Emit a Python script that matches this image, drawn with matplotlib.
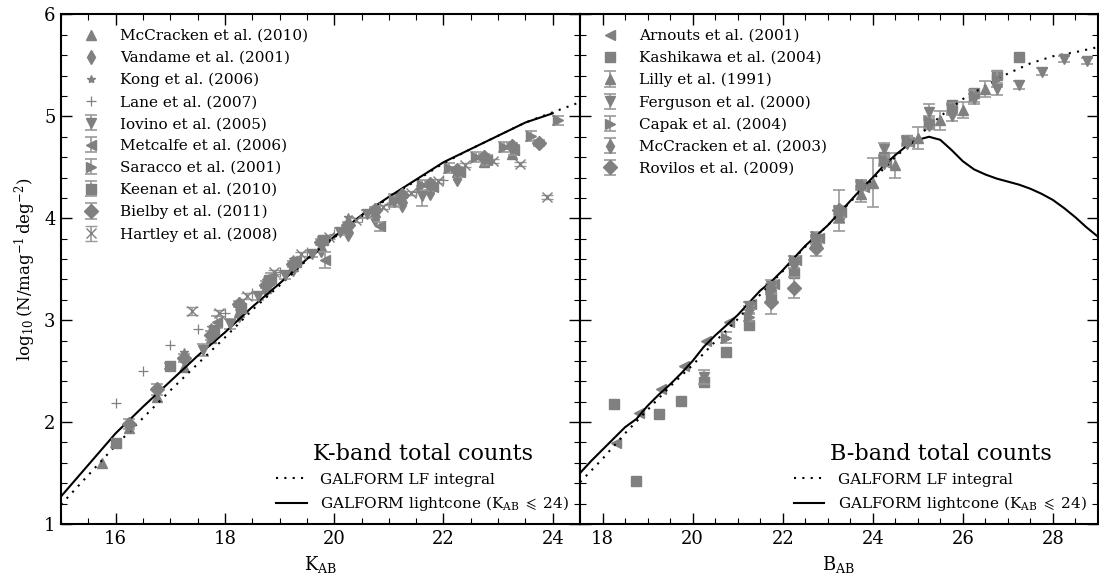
import matplotlib
matplotlib.use("Agg")
import matplotlib.pyplot as plt
from matplotlib.ticker import MultipleLocator

plt.rcParams['font.family'] = ['DejaVu Serif']
plt.rcParams['mathtext.fontset'] = 'dejavuserif'

# ---------------- K-band model curves ----------------
k_lc_mag = [15.0, 15.5, 16.0, 16.5, 17.0, 17.5, 18.0, 18.5, 19.0, 19.5, 20.0, 20.5,
            21.0, 21.5, 22.0, 22.5, 23.0, 23.5, 24.0]
k_lc_n = [1.27, 1.58, 1.89, 2.15, 2.40, 2.65, 2.88, 3.13, 3.36, 3.60, 3.82, 4.03,
          4.21, 4.38, 4.55, 4.68, 4.81, 4.94, 5.03]
k_lf_mag = [15.0, 15.5, 16.0, 16.5, 17.0, 17.5, 18.0, 18.5, 19.0, 19.5, 20.0, 20.5,
            21.0, 21.5, 22.0, 22.5, 23.0, 23.5, 24.0, 24.5]
k_lf_n = [1.19, 1.48, 1.77, 2.04, 2.31, 2.57, 2.83, 3.10, 3.34, 3.59, 3.81, 4.02,
          4.20, 4.37, 4.54, 4.68, 4.81, 4.94, 5.04, 5.14]

# ---------------- K-band data ----------------
mcc10_k = [15.75, 16.25, 16.75, 17.25, 17.75, 18.25, 18.75, 19.25, 19.75, 20.25, 20.75,
           21.25, 21.75, 22.25, 22.75, 23.25]
mcc10_n = [1.60, 1.94, 2.25, 2.54, 2.83, 3.08, 3.32, 3.53, 3.73, 3.90, 4.06,
           4.20, 4.32, 4.45, 4.55, 4.63]

vandame_k = [18.25, 18.75, 19.25, 19.75, 20.25, 20.75, 21.25, 21.75, 22.25]
vandame_n = [3.05, 3.30, 3.50, 3.69, 3.85, 3.99, 4.13, 4.25, 4.39]

kong_k = [17.25, 17.75, 18.25, 18.75, 19.25, 19.75, 20.25, 20.75]
kong_n = [2.69, 2.93, 3.16, 3.39, 3.60, 3.78, 4.01, 4.11]

lane_k = [16.0, 16.5, 17.0, 17.5, 18.0, 18.5, 19.0, 19.5, 20.0, 20.5, 21.0, 21.5, 22.0]
lane_n = [2.19, 2.50, 2.76, 2.91, 3.07, 3.27, 3.47, 3.67, 3.85, 4.01, 4.14, 4.26, 4.38]

iovino_k = [17.6, 18.1, 18.6, 19.1, 19.6, 20.1, 20.6, 21.1, 21.6]
iovino_n = [2.71, 2.96, 3.24, 3.44, 3.65, 3.87, 4.04, 4.16, 4.22]
iovino_e = [0.06, 0.05, 0.04, 0.04, 0.03, 0.03, 0.04, 0.05, 0.10]

metcalfe_k = [17.85, 18.85, 19.84, 20.83, 21.8, 22.3, 22.8, 23.3]
metcalfe_n = [2.98, 3.41, 3.59, 3.92, 4.31, 4.45, 4.57, 4.67]
metcalfe_e = [0.06, 0.05, 0.08, 0.04, 0.04, 0.04, 0.05, 0.05]

saracco_k = [21.1, 21.6, 22.1, 22.6, 23.1, 23.6, 24.1]
saracco_n = [4.18, 4.33, 4.49, 4.60, 4.70, 4.81, 4.96]
saracco_e = [0.06, 0.05, 0.05, 0.05, 0.05, 0.05, 0.04]

keenan_k = [16.0, 17.0, 17.8, 18.3, 18.8, 19.3, 19.8]
keenan_n = [1.79, 2.55, 2.90, 3.12, 3.39, 3.57, 3.79]
keenan_e = [0.03, 0.03, 0.03, 0.02, 0.02, 0.02, 0.03]

bielby_k = [16.25, 16.75, 17.25, 17.75, 18.25, 18.75, 19.25, 19.75, 20.25, 20.75, 21.25,
            21.75, 22.25, 22.75, 23.25, 23.75]
bielby_n = [1.98, 2.32, 2.63, 2.85, 3.16, 3.35, 3.55, 3.77, 3.93, 4.08, 4.23,
            4.34, 4.47, 4.60, 4.71, 4.74]
bielby_e = [0.05, 0.05, 0.04, 0.04, 0.03, 0.03, 0.03, 0.03, 0.03, 0.03, 0.03,
            0.03, 0.03, 0.03, 0.03, 0.03]

hartley_k = [17.4, 17.9, 18.4, 18.9, 19.4, 19.9, 20.4, 20.9, 21.4, 21.9, 22.4, 22.9, 23.4, 23.9]
hartley_n = [3.09, 3.07, 3.24, 3.47, 3.65, 3.82, 3.98, 4.11, 4.25, 4.37, 4.52, 4.56, 4.53, 4.21]
hartley_e = [0.04, 0.03, 0.03, 0.02, 0.02, 0.02, 0.02, 0.02, 0.02, 0.02, 0.02, 0.02, 0.02, 0.02]

# ---------------- B-band model curves ----------------
b_lc_mag = [17.5, 17.75, 18.0, 18.25, 18.5, 18.75, 19.0, 19.25, 19.5, 19.75, 20.0, 20.25,
            20.5, 20.75, 21.0, 21.25, 21.5, 21.75, 22.0, 22.25, 22.5, 22.75, 23.0, 23.25,
            23.5, 23.75, 24.0, 24.25, 24.5, 24.75, 25.0, 25.25, 25.5, 25.75, 26.0, 26.25,
            26.5, 26.75, 27.0, 27.25, 27.5, 27.75, 28.0, 28.25, 28.5, 28.75, 29.0]
b_lc_n = [1.50, 1.62, 1.73, 1.84, 1.95, 2.03, 2.16, 2.27, 2.37, 2.48, 2.60, 2.74,
          2.85, 2.95, 3.05, 3.17, 3.29, 3.38, 3.49, 3.61, 3.73, 3.83, 3.93, 4.05,
          4.17, 4.29, 4.40, 4.52, 4.62, 4.71, 4.77, 4.80, 4.77, 4.67, 4.56, 4.48,
          4.43, 4.39, 4.36, 4.33, 4.29, 4.24, 4.18, 4.10, 4.01, 3.91, 3.82]
b_lf_mag = [17.5, 18.0, 18.5, 19.0, 19.5, 20.0, 20.5, 21.0, 21.5, 22.0, 22.5, 23.0,
            23.5, 24.0, 24.5, 25.0, 25.5, 26.0, 26.5, 27.0, 27.5, 28.0, 28.5, 29.0]
b_lf_n = [1.41, 1.64, 1.89, 2.12, 2.35, 2.56, 2.79, 3.01, 3.25, 3.48, 3.72, 3.93,
          4.16, 4.38, 4.60, 4.80, 5.00, 5.17, 5.30, 5.42, 5.52, 5.59, 5.63, 5.68]

# ---------------- B-band data ----------------
arnouts_b = [18.3, 18.8, 19.3, 19.8, 20.3, 20.8, 21.3, 21.8, 22.3, 22.8, 23.3, 23.8, 24.3, 24.8]
arnouts_n = [1.79, 2.09, 2.32, 2.55, 2.80, 2.98, 3.16, 3.36, 3.59, 3.81, 4.06, 4.31, 4.54, 4.75]

kashi_b = [18.25, 18.75, 19.25, 19.75, 20.25, 20.75, 21.25, 21.75, 22.25, 22.75, 23.25,
           23.75, 24.25, 24.75, 25.25, 25.75, 26.25, 26.75, 27.25]
kashi_n = [2.18, 1.42, 2.08, 2.21, 2.39, 2.69, 2.95, 3.24, 3.46, 3.77, 4.04,
           4.33, 4.60, 4.77, 4.93, 5.11, 5.23, 5.41, 5.58]

lilly_b = [22.75, 23.25, 23.75, 24.0, 24.5, 25.0, 25.5, 26.0, 26.5]
lilly_n = [3.77, 4.01, 4.24, 4.35, 4.52, 4.79, 4.96, 5.06, 5.27]
lilly_e = [0.05, 0.06, 0.08, 0.24, 0.12, 0.11, 0.09, 0.08, 0.08]

ferg_b = [20.25, 21.25, 21.75, 22.75, 23.25, 24.25, 25.25, 25.75, 26.25, 26.75, 27.25,
          27.75, 28.25, 28.75]
ferg_n = [2.44, 3.14, 3.34, 3.80, 4.06, 4.68, 5.04, 5.00, 5.17, 5.27, 5.31,
          5.44, 5.56, 5.54]
ferg_e = [0.07, 0.04, 0.05, 0.04, 0.05, 0.06, 0.08, 0.05, 0.05, 0.06, 0.04,
          0.03, 0.03, 0.03]

capak_b = [20.75, 21.25, 21.75, 22.25, 22.75, 23.25, 23.75, 24.25, 24.75, 25.25, 25.75,
           26.25, 26.75]
capak_n = [2.83, 3.03, 3.30, 3.59, 3.83, 4.08, 4.34, 4.57, 4.77, 4.95, 5.08, 5.20, 5.37]
capak_e = [0.05, 0.04, 0.04, 0.04, 0.04, 0.04, 0.04, 0.04, 0.04, 0.05, 0.05, 0.06, 0.08]

mcc03_b = [21.25, 21.75, 22.25, 22.75, 23.25, 23.75, 24.25, 24.75, 25.25, 25.75]
mcc03_n = [3.10, 3.32, 3.55, 3.79, 4.04, 4.32, 4.55, 4.75, 4.93, 5.06]
mcc03_e = [0.04, 0.04, 0.04, 0.04, 0.04, 0.04, 0.04, 0.04, 0.05, 0.05]

rovilos_b = [21.75, 22.25, 22.75, 23.25]
rovilos_n = [3.18, 3.32, 3.71, 4.08]
rovilos_e = [0.12, 0.10, 0.08, 0.20]

# ---------------- plotting ----------------
fig = plt.figure(figsize=(10.99, 5.75), dpi=100)
axK = fig.add_axes([0.0555, 0.0887, 0.4723, 0.8861])
axB = fig.add_axes([0.5278, 0.0887, 0.4712, 0.8861])

MC = '0.5'
EC = '0.6'
eb_kw = dict(color=MC, ecolor=EC, mec=MC, capsize=4, elinewidth=1.2, capthick=1.2, ls='none')
pl_kw = dict(color=MC, mec=MC, ls='none')
dot_ls = (0, (1, 3))

# K panel
axK.plot(mcc10_k, mcc10_n, marker='^', ms=7, label='McCracken et al. (2010)', **pl_kw)
axK.plot(vandame_k, vandame_n, marker='d', ms=7, label='Vandame et al. (2001)', **pl_kw)
axK.plot(kong_k, kong_n, marker='*', ms=6, label='Kong et al. (2006)', **pl_kw)
axK.plot(lane_k, lane_n, marker='+', ms=7, mew=0.9, label='Lane et al. (2007)', **pl_kw)
axK.errorbar(iovino_k, iovino_n, yerr=iovino_e, fmt='v', ms=7, label='Iovino et al. (2005)', **eb_kw)
axK.errorbar(metcalfe_k, metcalfe_n, yerr=metcalfe_e, fmt='<', ms=7, label='Metcalfe et al. (2006)', **eb_kw)
axK.errorbar(saracco_k, saracco_n, yerr=saracco_e, fmt='>', ms=7, label='Saracco et al. (2001)', **eb_kw)
axK.errorbar(keenan_k, keenan_n, yerr=keenan_e, fmt='s', ms=7, label='Keenan et al. (2010)', **eb_kw)
axK.errorbar(bielby_k, bielby_n, yerr=bielby_e, fmt='D', ms=7, label='Bielby et al. (2011)', **eb_kw)
axK.errorbar(hartley_k, hartley_n, yerr=hartley_e, fmt='x', ms=7, mew=1.0, label='Hartley et al. (2008)', **eb_kw)
lkf, = axK.plot(k_lf_mag, k_lf_n, color='k', lw=1.5, ls=dot_ls)
lkl, = axK.plot(k_lc_mag, k_lc_n, color='k', lw=1.5)

# B panel
axB.plot(arnouts_b, arnouts_n, marker='<', ms=7, label='Arnouts et al. (2001)', **pl_kw)
axB.plot(kashi_b, kashi_n, marker='s', ms=7, label='Kashikawa et al. (2004)', **pl_kw)
axB.errorbar(lilly_b, lilly_n, yerr=lilly_e, fmt='^', ms=7, label='Lilly et al. (1991)', **eb_kw)
axB.errorbar(ferg_b, ferg_n, yerr=ferg_e, fmt='v', ms=7, label='Ferguson et al. (2000)', **eb_kw)
axB.errorbar(capak_b, capak_n, yerr=capak_e, fmt='>', ms=7, label='Capak et al. (2004)', **eb_kw)
axB.errorbar(mcc03_b, mcc03_n, yerr=mcc03_e, fmt='d', ms=7, label='McCracken et al. (2003)', **eb_kw)
axB.errorbar(rovilos_b, rovilos_n, yerr=rovilos_e, fmt='D', ms=7, label='Rovilos et al. (2009)', **eb_kw)
lbf, = axB.plot(b_lf_mag, b_lf_n, color='k', lw=1.5, ls=dot_ls)
lbl, = axB.plot(b_lc_mag, b_lc_n, color='k', lw=1.5)

lab_lf = 'GALFORM LF integral'
lab_lc = r'GALFORM lightcone ($\mathrm{K_{AB}}\;\leqslant\;24$)'

for ax, xlim, title, lf, lc in [(axK, (15, 24.5), 'K-band total counts', lkf, lkl),
                                (axB, (17.5, 29), 'B-band total counts', lbf, lbl)]:
    ax.set_xlim(*xlim)
    ax.set_ylim(1, 6)
    ax.xaxis.set_major_locator(MultipleLocator(2))
    ax.xaxis.set_minor_locator(MultipleLocator(0.5))
    ax.yaxis.set_major_locator(MultipleLocator(1))
    ax.yaxis.set_minor_locator(MultipleLocator(0.2))
    ax.tick_params(which='both', direction='in', top=True, right=True, labelsize=13)
    ax.tick_params(which='major', length=8, width=1.0, pad=4)
    ax.tick_params(which='minor', length=4, width=0.8)
    for s in ax.spines.values():
        s.set_linewidth(1.5)
    leg1 = ax.legend(loc='upper left', frameon=False, fontsize=11, numpoints=1,
                     labelspacing=0.52, handletextpad=0.9, borderaxespad=0.55)
    ax.add_artist(leg1)
    leg2 = ax.legend([lf, lc], [lab_lf, lab_lc], loc='lower right', frameon=False,
                     fontsize=11, title=title, title_fontsize=16, labelspacing=0.5,
                     handlelength=2.0, handletextpad=0.9, borderaxespad=0.3)

axK.set_xlabel(r'$\mathrm{K_{AB}}$', fontsize=13, labelpad=5)
axB.set_xlabel(r'$\mathrm{B_{AB}}$', fontsize=13, labelpad=5)
axK.set_ylabel(r'$\log_{10}(\mathrm{N/mag^{-1}\,deg^{-2}})$', fontsize=12)
axB.tick_params(labelleft=False)

fig.savefig('out.png', dpi=100)
